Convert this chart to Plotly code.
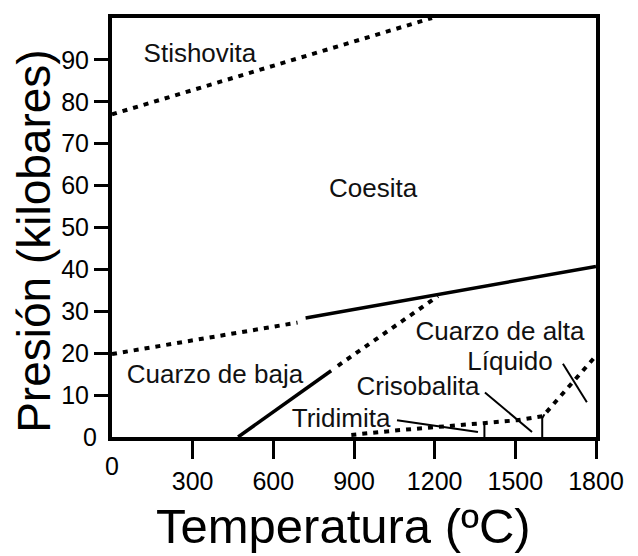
import plotly.graph_objects as go

# ---- data (temperature in ºC, pressure in kilobares) ----
stish_T = [0, 1190]
stish_P = [77.0, 100.0]

coes_dot_T = [0, 690]
coes_dot_P = [19.8, 27.3]
coes_sol_T = [720, 1800]
coes_sol_P = [28.4, 40.7]

qz_sol_T = [469, 815]
qz_sol_P = [0.0, 15.8]
qz_dot_T = [840, 1212]
qz_dot_P = [17.0, 33.6]

trid_T = [890, 1071, 1380, 1506, 1603, 1800]
trid_P = [0.5, 1.65, 3.3, 4.0, 5.0, 19.4]

tick1_T = [1385, 1385]
tick1_P = [0.0, 3.3]
tick2_T = [1600, 1600, 1608]
tick2_P = [0.0, 4.5, 5.4]

trid_ptr_T = [1060, 1361]
trid_ptr_P = [4.0, 1.2]
cris_ptr_T = [1387, 1562]
cris_ptr_P = [10.6, 1.2]
liq_ptr_T = [1677, 1766]
liq_ptr_P = [17.5, 8.3]

label_text = ["Stishovita", "Coesita", "Cuarzo de baja", "Cuarzo de alta",
              "Líquido", "Crisobalita", "Tridimita"]
label_T = [327, 971, 383, 1443, 1480, 1138, 852]
label_P = [91.0, 58.9, 14.4, 24.8, 17.5, 11.6, 4.0]

x_ticks = [300, 600, 900, 1200, 1500, 1800]
y_ticks = [10, 20, 30, 40, 50, 60, 70, 80, 90]

x_title = "Temperatura (ºC)"
y_title = "Presión (kilobares)"

FONT = "Liberation Sans, Arial, sans-serif"
DOT = "5px,6px"

fig = go.Figure()

def add_line(x, y, dash="solid", width=3.5):
    fig.add_trace(go.Scatter(x=x, y=y, mode="lines",
                             line=dict(color="black", width=width, dash=dash),
                             hoverinfo="skip", showlegend=False, cliponaxis=True))

add_line(stish_T, stish_P, DOT, 4)
add_line(coes_dot_T, coes_dot_P, DOT, 4)
add_line(coes_sol_T, coes_sol_P, "solid", 3.5)
add_line(qz_sol_T, qz_sol_P, "solid", 3.5)
add_line(qz_dot_T, qz_dot_P, DOT, 4)
add_line(trid_T, trid_P, DOT, 4)
add_line(tick1_T, tick1_P, "solid", 2)
add_line(tick2_T, tick2_P, "solid", 2)
add_line(trid_ptr_T, trid_ptr_P, "solid", 2)
add_line(cris_ptr_T, cris_ptr_P, "solid", 2)
add_line(liq_ptr_T, liq_ptr_P, "solid", 2)

fig.add_trace(go.Scatter(x=label_T, y=label_P, mode="text", text=label_text,
                         textfont=dict(family=FONT, size=26, color="#111"),
                         hoverinfo="skip", showlegend=False))

# invisible trace on the second axes so that they render the "0" labels
fig.add_trace(go.Scatter(x=[0], y=[0], xaxis="x2", yaxis="y2", mode="markers",
                         marker=dict(opacity=0), hoverinfo="skip", showlegend=False))

fig.update_layout(
    width=630, height=548,
    margin=dict(l=104, r=42, t=6, b=119),
    paper_bgcolor="white", plot_bgcolor="white",
    font=dict(family=FONT, color="black"),
    xaxis=dict(range=[0, 1800], tickvals=x_ticks, ticks="outside", ticklen=18,
               tickwidth=2.5, tickcolor="black", showgrid=False, zeroline=False,
               showline=True, linewidth=4, linecolor="black", mirror=True,
               tickfont=dict(size=25), ticklabelstandoff=1),
    yaxis=dict(range=[0, 100], tickvals=y_ticks, ticks="outside", ticklen=14,
               tickwidth=2.5, tickcolor="black", showgrid=False, zeroline=False,
               showline=True, linewidth=4, linecolor="black", mirror=True,
               tickfont=dict(size=25)),
    xaxis2=dict(overlaying="x", matches="x", range=[0, 1800], tickvals=[0],
                ticks="", showline=False, showgrid=False, zeroline=False,
                tickfont=dict(size=25), ticklabelstandoff=12, anchor="y"),
    yaxis2=dict(overlaying="y", matches="y", range=[0, 100], tickvals=[0],
                ticks="", showline=False, showgrid=False, zeroline=False,
                tickfont=dict(size=25), ticklabelstandoff=14, anchor="x"),
    annotations=[
        dict(text=x_title, xref="paper", yref="paper", x=0.479, y=-0.213,
             xanchor="center", yanchor="middle", showarrow=False,
             font=dict(size=49, family=FONT, color="black")),
        dict(text=y_title, xref="paper", yref="paper", x=-0.161, y=0.466,
             xanchor="center", yanchor="middle", showarrow=False, textangle=-90,
             font=dict(size=46, family=FONT, color="black")),
    ],
)

fig.write_html("out.html")
